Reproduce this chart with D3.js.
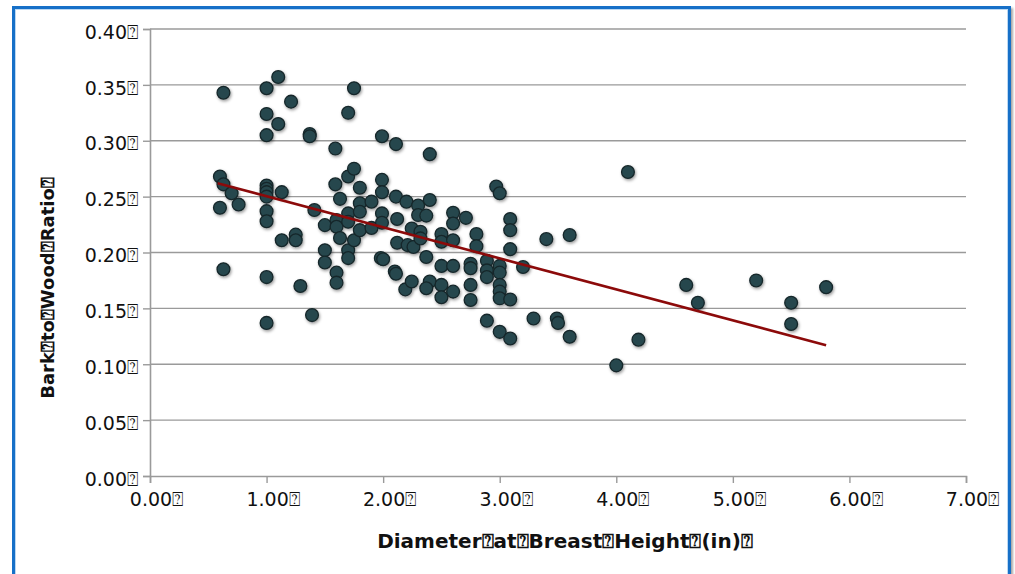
<!DOCTYPE html>
<html>
<head>
<meta charset="utf-8">
<script src="https://cdn.jsdelivr.net/npm/d3@7"></script>
<style>
  html, body { margin: 0; padding: 0; background: #fff; }
  svg { display: block; }
</style>
</head>
<body>
<svg id="chart" width="1015" height="574"></svg>
<script>
// ---- data ----
const dbh = [
  0.63, 0.60, 0.63, 0.70, 0.76, 0.60, 0.63,
  1.00, 1.10, 1.21, 1.00, 1.10, 1.00, 1.00, 1.00, 1.00, 1.00, 1.13, 1.00, 1.00, 1.00, 1.00,
  1.13, 1.25, 1.25, 1.29, 1.37, 1.37, 1.39, 1.41,
  1.50, 1.50, 1.50, 1.59, 1.59, 1.60, 1.60, 1.63, 1.63, 1.60, 1.60,
  1.70, 1.75, 1.70, 1.75, 1.70, 1.70, 1.70, 1.70, 1.75, 1.80, 1.80, 1.80, 1.80,
  1.90, 1.90, 1.99, 1.99, 1.99, 1.99, 1.99, 1.98, 2.00, 2.11, 2.11, 2.12, 2.12, 2.10, 2.11,
  2.20, 2.21, 2.245, 2.26, 2.19, 2.245, 2.30, 2.30, 2.32, 2.32, 2.40, 2.40, 2.37, 2.37, 2.40, 2.37,
  2.50, 2.50, 2.50, 2.50, 2.50, 2.60, 2.60, 2.60, 2.60, 2.60, 2.71, 2.75, 2.75, 2.75, 2.75, 2.80, 2.80,
  2.89, 2.89, 2.89, 2.89, 2.97, 3.00, 3.00, 3.00, 3.00, 3.00, 3.00, 3.00, 3.09, 3.09, 3.09, 3.09, 3.09, 3.20,
  3.29, 3.40, 3.49, 3.50, 3.60, 3.60, 4.00, 4.10, 4.19, 4.60, 4.70, 5.20, 5.50, 5.50, 5.80
];
const ratio = [
  0.343, 0.268, 0.261, 0.253, 0.243, 0.240, 0.185,
  0.347, 0.357, 0.335, 0.324, 0.315, 0.305, 0.260, 0.257, 0.254, 0.250, 0.254, 0.237, 0.228, 0.178, 0.137,
  0.211, 0.216, 0.211, 0.170, 0.306, 0.304, 0.144, 0.238,
  0.2245, 0.202, 0.191, 0.293, 0.261, 0.229, 0.223, 0.248, 0.213, 0.182, 0.173,
  0.325, 0.347, 0.268, 0.275, 0.235, 0.2275, 0.202, 0.195, 0.211, 0.258, 0.244, 0.2365, 0.220,
  0.2455, 0.222, 0.304, 0.265, 0.254, 0.235, 0.2266, 0.195, 0.194, 0.297, 0.250, 0.230, 0.2087, 0.183, 0.181,
  0.2455, 0.2066, 0.2215, 0.205, 0.167, 0.174, 0.242, 0.2335, 0.2185, 0.2126, 0.288, 0.247, 0.233, 0.196, 0.174, 0.168,
  0.2165, 0.2096, 0.188, 0.171, 0.160, 0.2355, 0.226, 0.211, 0.188, 0.165, 0.231, 0.190, 0.186, 0.171, 0.1575, 0.2165, 0.2057,
  0.1926, 0.184, 0.178, 0.139, 0.259, 0.253, 0.188, 0.182, 0.171, 0.165, 0.159, 0.129, 0.230, 0.220, 0.203, 0.158, 0.123, 0.187,
  0.141, 0.212, 0.141, 0.137, 0.2156, 0.1246, 0.099, 0.272, 0.122, 0.171, 0.155, 0.175, 0.155, 0.136, 0.169
];
// linear trend line end points
const trendX = [0.58, 5.80];
const trendY = [0.262, 0.117];
// tick values and labels
const xTicks = [0, 1, 2, 3, 4, 5, 6, 7];
const yTicks = [0, 0.05, 0.10, 0.15, 0.20, 0.25, 0.30, 0.35, 0.40];
const BOX = "\u2370";
const xTitle = ["Diameter", "at", "Breast", "Height", "(in)"];
const yTitle = ["Bark", "to", "Wood", "Ratio"];

// ---- drawing ----
const svg = d3.select("#chart");
const W = 1015, H = 574;
const x = d3.scaleLinear().domain([0, 7]).range([150, 966]);
const y = d3.scaleLinear().domain([0, 0.4]).range([476, 29]);

const defs = svg.append("defs");
const f = defs.append("filter").attr("id", "shadow")
  .attr("x", "-50%").attr("y", "-50%").attr("width", "200%").attr("height", "200%");
f.append("feDropShadow").attr("dx", 1).attr("dy", 1.6).attr("stdDeviation", 1.4)
  .attr("flood-color", "#000").attr("flood-opacity", 0.4);
const fb = defs.append("filter").attr("id", "bshadow")
  .attr("x", "-5%").attr("y", "-5%").attr("width", "110%").attr("height", "110%");
fb.append("feDropShadow").attr("dx", 2).attr("dy", 2).attr("stdDeviation", 1)
  .attr("flood-color", "#000").attr("flood-opacity", 0.35);

svg.append("rect").attr("width", W).attr("height", H).attr("fill", "#fff");

// frame
svg.append("rect")
  .attr("x", 13.5).attr("y", 7.5).attr("width", 996).attr("height", 620)
  .attr("fill", "#fff").attr("stroke", "#1570c8").attr("stroke-width", 3)
  .attr("filter", "url(#bshadow)");
svg.append("rect")
  .attr("x", 15.5).attr("y", 9.5).attr("width", 992).attr("height", 620)
  .attr("fill", "none").attr("stroke", "#bcd8f2").attr("stroke-width", 1);

const font = "'DejaVu Sans', Verdana, sans-serif";

// gridlines
svg.append("g").selectAll("line").data(yTicks.filter(d => d > 0)).join("line")
  .attr("x1", x(0)).attr("x2", x(7))
  .attr("y1", d => y(d)).attr("y2", d => y(d))
  .attr("stroke", "#9a9a9a").attr("stroke-width", 1.4);

// y axis
const yAxis = d3.axisLeft(y).tickValues(yTicks).tickSize(7).tickPadding(5)
  .tickFormat(d => d3.format(".2f")(d) + BOX);
const gy = svg.append("g").attr("transform", `translate(${x(0)},0)`).call(yAxis);
gy.select(".domain").attr("stroke", "#9a9a9a").attr("stroke-width", 1.6);
gy.selectAll(".tick line").attr("stroke", "#9a9a9a").attr("stroke-width", 1.4);
gy.selectAll(".tick text").attr("font-family", font).attr("font-size", 19)
  .attr("fill", "#111").attr("dy", "0.48em");

// x axis
const xAxis = d3.axisBottom(x).tickValues(xTicks).tickSize(7).tickPadding(9)
  .tickFormat(d => d3.format(".2f")(d) + BOX);
const gx = svg.append("g").attr("transform", `translate(0,${y(0)})`).call(xAxis);
gx.select(".domain").attr("stroke", "#9a9a9a").attr("stroke-width", 1.6);
gx.selectAll(".tick line").attr("stroke", "#9a9a9a").attr("stroke-width", 1.4);
gx.selectAll(".tick text").attr("font-family", font).attr("font-size", 19)
  .attr("fill", "#111").attr("dx", 6).attr("dy", "0.75em");

// points
const pts = dbh.map((d, i) => ({ x: d, y: ratio[i] }));
svg.append("g").attr("filter", "url(#shadow)").selectAll("circle").data(pts).join("circle")
  .attr("cx", d => x(d.x)).attr("cy", d => y(d.y)).attr("r", 6.4)
  .attr("fill", "#27474d").attr("stroke", "#15272a").attr("stroke-width", 1.3);

// trend line drawn over points
svg.append("line")
  .attr("x1", x(trendX[0])).attr("y1", y(trendY[0]))
  .attr("x2", x(trendX[1])).attr("y2", y(trendY[1]))
  .attr("stroke", "#8c0a0a").attr("stroke-width", 2.6);

// axis titles
svg.append("text")
  .attr("x", 565).attr("y", 548).attr("text-anchor", "middle")
  .attr("font-family", font).attr("font-weight", "bold").attr("font-size", 20)
  .attr("fill", "#111")
  .text(xTitle.join(BOX) + BOX);

svg.append("text")
  .attr("transform", "translate(54,288) rotate(-90)").attr("text-anchor", "middle")
  .attr("font-family", font).attr("font-weight", "bold").attr("font-size", 18)
  .attr("fill", "#111")
  .text(yTitle.join(BOX) + BOX);
</script>
</body>
</html>
